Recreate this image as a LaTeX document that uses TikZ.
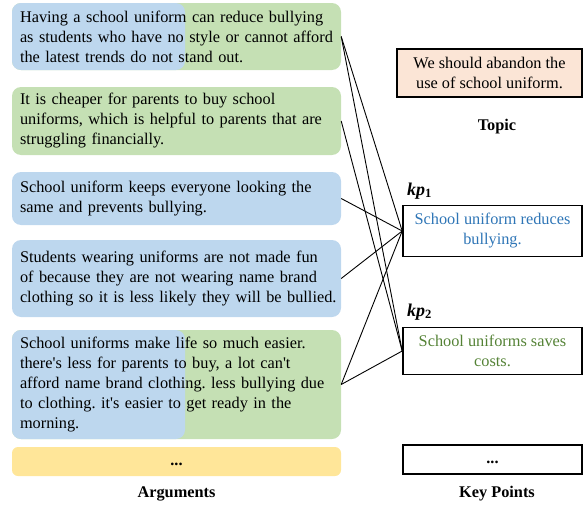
\documentclass[tikz,border=0pt]{standalone}
\usepackage{fontspec}
\setmainfont{Liberation Serif}
\definecolor{argblue}{RGB}{189,215,238}
\definecolor{arggreen}{RGB}{197,224,180}
\definecolor{argyellow}{RGB}{255,230,153}
\definecolor{topicfill}{RGB}{251,229,214}
\definecolor{kpblue}{RGB}{46,117,182}
\definecolor{kpgreen}{RGB}{84,130,53}
\newcommand{\oneline}[1]{\mbox{#1}}
\newcommand{\apo}{\textquotesingle}
\frenchspacing
\begin{document}
\begin{tikzpicture}[x=1pt,y=-1pt,
  font=\fontsize{16.3}{20}\selectfont,
  argbox/.style={rounded corners=9pt, minimum width=329pt, text width=313pt,
    inner xsep=8pt, inner ysep=0pt, align=left, anchor=center},
  splitblue/.style={path picture={\fill[argblue, rounded corners=9pt]
    (path picture bounding box.north west) rectangle
    ([xshift=173pt]path picture bounding box.south west);}},
  kpbox/.style={draw=black, line width=1.6pt, minimum width=179pt,
    align=center, inner sep=0pt},
  dotsbox/.style={text height=12pt, text depth=4pt},
  caption/.style={font=\fontsize{16.3}{20}\selectfont\bfseries},
  kplabel/.style={font=\fontsize{18}{20}\selectfont, inner sep=0pt},
  link/.style={draw=black, line width=0.9pt}]
\useasboundingbox (0,0) rectangle (584,506);

% arguments
\node[argbox, fill=arggreen, splitblue, minimum height=67pt] (a1) at (176.5,36.5)
  {\oneline{Having a school uniform can reduce bullying}\\
   \oneline{as students who have no style or cannot afford}\\
   \oneline{the latest trends do not stand out.}};
\node[argbox, fill=arggreen, minimum height=68pt] (a2) at (176.5,121)
  {\oneline{It is cheaper for parents to buy school}\\
   \oneline{uniforms, which is helpful to parents that are}\\
   \oneline{struggling financially.}};
\node[argbox, fill=argblue, minimum height=53pt] (a3) at (176.5,198.5)
  {\oneline{School uniform keeps everyone looking the}\\
   \oneline{same and prevents bullying.}};
\node[argbox, fill=argblue, minimum height=77pt] (a4) at (176.5,278.5)
  {\oneline{Students wearing uniforms are not made fun}\\
   \oneline{of because they are not wearing name brand}\\
   \oneline{clothing so it is less likely they will be bullied.}};
\node[argbox, fill=arggreen, splitblue, minimum height=109pt] (a5) at (176.5,384.5)
  {\oneline{School uniforms make life so much easier.}\\
   \oneline{there\apo s less for parents to buy, a lot can\apo t}\\
   \oneline{afford name brand clothing. less bullying due}\\
   \oneline{to clothing. it\apo s easier to get ready in the}\\
   \oneline{morning.}};
\node[argbox, dotsbox, fill=argyellow, minimum height=29pt, rounded corners=6pt, align=center] (a6) at (176.5,461.5)
  {\textbf{...}};
\node[caption] (argcap) at (176.5,494) {Arguments};

% topic
\node[draw=black, line width=1.2pt, fill=topicfill, minimum width=185pt,
  minimum height=48pt, align=center, inner sep=0pt] (topic) at (489.5,73)
  {We should abandon the\\use of school uniform.};
\node[caption] (topiccap) at (497,127) {Topic};

% key points
\node[kplabel, anchor=west] (l1) at (407,191) {{\bfseries\itshape kp}\textsubscript{\bfseries 1}};
\node[kpbox, minimum height=51pt, text=kpblue] (kp1) at (492.5,231)
  {School uniform reduces\\bullying.};
\node[kplabel, anchor=west] (l2) at (407,312) {{\bfseries\itshape kp}\textsubscript{\bfseries 2}};
\node[kpbox, minimum height=47pt, text=kpgreen] (kp2) at (492.5,351)
  {School uniforms saves\\costs.};
\node[kpbox, dotsbox, minimum height=29pt] (kp3) at (492.5,459.5) {\textbf{...}};
\node[caption] (kpcap) at (497,494) {Key Points};

% connectors
\draw[link] (a1.east) -- (kp1.west);
\draw[link] (a1.east) -- (kp2.west);
\draw[link] (a2.east) -- (kp2.west);
\draw[link] (a3.east) -- (kp1.west);
\draw[link] (a4.east) -- (kp1.west);
\draw[link] (a5.east) -- (kp1.west);
\draw[link] (a5.east) -- (kp2.west);
\end{tikzpicture}
\end{document}
